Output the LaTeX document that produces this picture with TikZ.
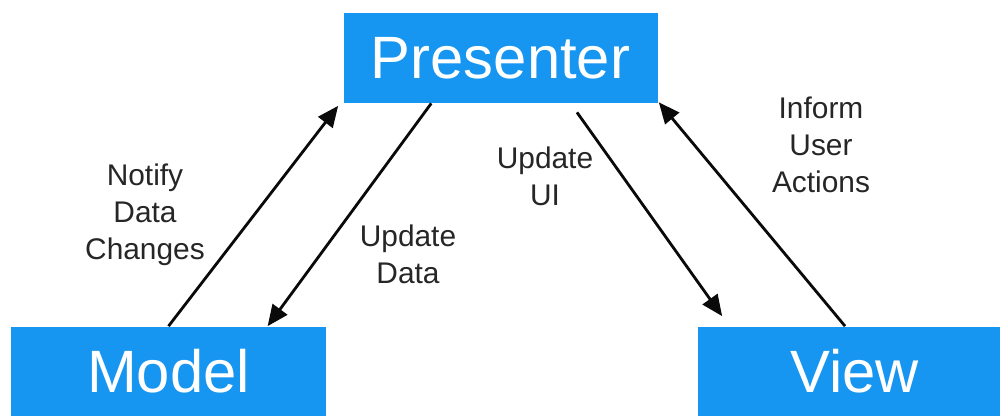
\documentclass[tikz,border=0pt]{standalone}
\usepackage{fontspec}
\setmainfont{Liberation Sans}
\usepackage{tikz}
\usetikzlibrary{arrows.meta, positioning, calc}
\definecolor{boxblue}{RGB}{22, 150, 240}
\definecolor{linedark}{RGB}{10, 10, 10}
\tikzset{
  mvpblock/.style={
    rectangle, fill=boxblue, draw=none,
    minimum height=1.8cm, minimum width=6.28cm,
    text=white, font=\fontsize{34}{40}\selectfont
  },
  msglabel/.style={
    align=center, text=black!85, inner sep=0pt,
    font=\fontsize{17}{21}\selectfont
  },
  msgline/.style={
    draw=linedark, line width=1.6pt, -{Triangle[length=4.2mm, width=3.6mm]}
  }
}
\begin{document}
\begin{tikzpicture}

  % Frame of the picture
  \useasboundingbox (0,0) rectangle (20,8.3);

  % The three blocks
  \node[mvpblock] (presenter) at (10.01,7.14) {Presenter};
  \node[mvpblock] (model) at (3.37,0.87) {Model};
  \node[mvpblock] (view) at (17.09,0.87) {View};

  % Model <-> Presenter
  \draw[msgline] (model.north) -- ($(presenter.south west)+(-0.1,-0.05)$);
  \draw[msgline] ($(presenter.south west)!0.28!(presenter.south east)$) -- ($(model.north west)!0.815!(model.north east)$);

  % Presenter <-> View
  \draw[msgline] ($(presenter.south west)!0.743!(presenter.south east)+(0,-0.18)$) -- ($(view.north west)+(0.5,0.2)$);
  \draw[msgline] ($(view.north west)!0.47!(view.north east)$) -- ($(presenter.south east)+(0.02,0.02)$);

  % Message labels
  \node[msglabel] (notify) at (2.9,4.0) {Notify\\Data\\Changes};
  \node[msglabel] (updata) at (8.16,3.22) {Update\\Data};
  \node[msglabel] (updui) at (10.9,4.78) {Update\\UI};
  \node[msglabel] (inform) at (16.42,5.4) {Inform\\User\\Actions};

\end{tikzpicture}
\end{document}
